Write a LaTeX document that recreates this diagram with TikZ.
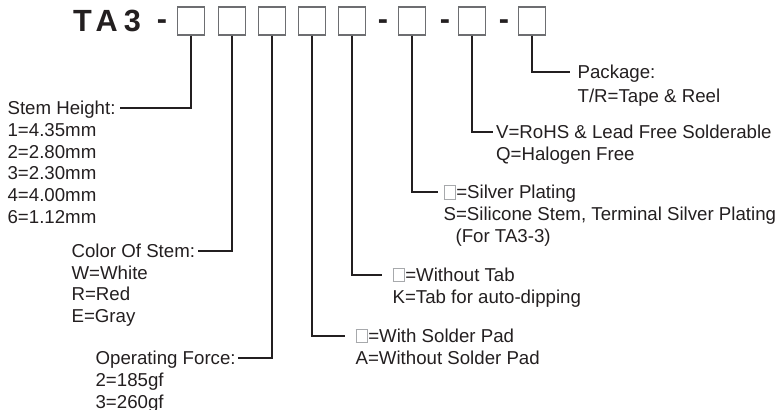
\documentclass[tikz,border=0pt]{standalone}
\usepackage{fontspec}
\setmainfont{Liberation Sans}
\usetikzlibrary{calc}
\definecolor{cink}{HTML}{231F20}
\definecolor{cslot}{HTML}{6D6E71}
\definecolor{cpale}{HTML}{A7A9AC}
\newcommand{\emptyslot}{{\color{cpale}\setlength{\fboxsep}{0pt}\setlength{\fboxrule}{0.75pt}\fbox{\rule{0pt}{9.6pt}\rule{8pt}{0pt}}}}
\tikzset{
  every picture/.style={line width=0.9pt},
  slot/.style={draw=cslot, fill=white, minimum width=20.25pt, minimum height=21pt, inner sep=0pt, line width=0.9pt},
  code/.style={font=\fontsize{23}{27}\selectfont\bfseries, text=cink, inner sep=0pt, anchor=base west},
  sep/.style={font=\fontsize{23}{27}\selectfont\bfseries, text=cink, inner sep=0pt, anchor=base},
  lead/.style={draw=cink, line width=1pt},
  % anchored on the baseline of the last line
  legend/.style={font=\fontsize{14}{16.3}\selectfont, text=cink, align=left, inner sep=0pt, anchor=base west},
}

\begin{document}
\begin{tikzpicture}[x=0.75pt, y=-0.75pt]
  \useasboundingbox (0,0) rectangle (779,410);
  % part number: TA3 - five slots - slot - slot - slot
  \node[code] (tname) at (72.5,32) {\addfontfeatures{LetterSpace=20}TA3};
  \foreach \n/\x in {1/191,2/232,3/272,4/312,5/352,6/412,7/472,8/532}
    \node[slot] (b\n) at (\x,21) {};
  \foreach \n/\x in {1/162,2/383,3/445,4/504}
    \node[sep] (d\n) at (\x,30) {-};

  % legends on the left
  \node[legend] (height) at (7,223.2) {Stem Height:\\1=4.35mm\\2=2.80mm\\3=2.30mm\\4=4.00mm\\6=1.12mm};
  \node[legend] (color) at (71,322.7) {Color Of Stem:\\W=White\\R=Red\\E=Gray};
  \node[legend] (force) at (95,408) {Operating Force:\\2=185gf\\3=260gf};
  \coordinate (hgt) at (120,108);
  \coordinate (col) at (198,251);
  \coordinate (frc) at (238,358);
  \draw[lead] (b1.south) |- (hgt);
  \draw[lead] (b2.south) |- (col);
  \draw[lead] (b3.south) |- (frc);

  % legends on the right
  \node[legend] (pad) at (355,364.2) {\emptyslot=With Solder Pad\\A=Without Solder Pad};
  \node[legend] (tab) at (392,303.2) {\emptyslot=Without Tab\\K=Tab for auto-dipping};
  \node[legend] (plating) at (443,242) {\emptyslot=Silver Plating\\S=Silicone Stem, Terminal Silver Plating\\\hspace*{9pt}(For TA3-3)};
  \node[legend] (rohs) at (495.5,160.2) {V=RoHS \& Lead Free Solderable\\Q=Halogen Free};
  \node[legend, font=\fontsize{14}{18}\selectfont] (package) at (577,102.5) {Package:\\T/R=Tape \& Reel};
  \coordinate (pd) at (345,336);
  \coordinate (tb) at (382,275);
  \coordinate (pl) at (438,192);
  \coordinate (rh) at (493,132);
  \coordinate (pk) at (570,72);
  \draw[lead] (b4.south) |- (pd);
  \draw[lead] (b5.south) |- (tb);
  \draw[lead] (b6.south) |- (pl);
  \draw[lead] (b7.south) |- (rh);
  \draw[lead] (b8.south) |- (pk);
\end{tikzpicture}
\end{document}
